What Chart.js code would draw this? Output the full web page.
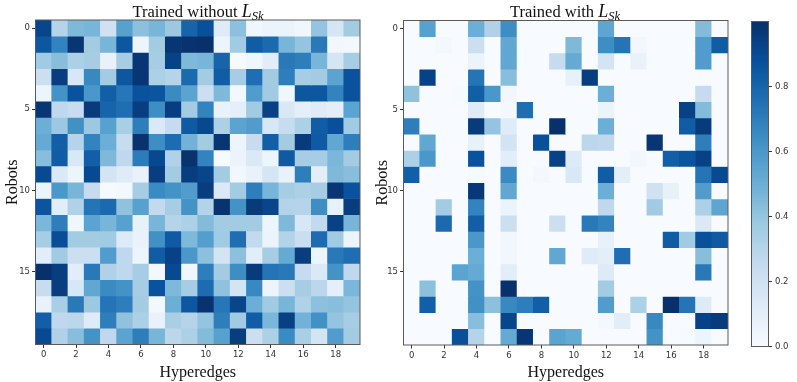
<!DOCTYPE html>
<html><head><meta charset="utf-8">
<style>
html,body{margin:0;padding:0;background:#fff;width:797px;height:382px;overflow:hidden}
.c{position:absolute;top:0;filter:blur(.35px)}
.t{position:absolute;top:0;font:16.5px "Liberation Serif",serif;color:#111;white-space:nowrap;transform:translateX(-50%);line-height:22px}
.t i{font-size:18px}.t sub{font-size:12.5px;line-height:0;vertical-align:-3px;font-style:italic}
</style>
<script src="https://cdn.jsdelivr.net/npm/chart.js@4/dist/chart.umd.js"></script>
</head><body>
<div class="c" style="left:0;width:370px;height:382px"><canvas id="a"></canvas></div>
<div class="c" style="left:370px;width:370px;height:382px"><canvas id="b"></canvas></div>
<div class="c" style="left:730px;width:67px;height:382px"><canvas id="cb"></canvas></div>
<div class="t" style="left:198px">Trained without <i>L<sub>Sk</sub></i></div>
<div class="t" style="left:565px">Trained with <i>L<sub>Sk</sub></i></div>
<script>
const hyperedges=[0,1,2,3,4,5,6,7,8,9,10,11,12,13,14,15,16,17,18,19];
const robots=[0,1,2,3,4,5,6,7,8,9,10,11,12,13,14,15,16,17,18,19];
const robotTicks=[0,5,10,15];
const colorbarTicks=[0,0.2,0.4,0.6,0.8];
const xAxisTitle="Hyperedges";
const yAxisTitle="Robots";
const blues=["#f7fbff","#deebf7","#c6dbef","#9ecae1","#6baed6","#4292c6","#2171b5","#08519c","#08306b"];
const withoutLsk=[
[.92,.3,.45,.47,.2,.56,.42,.47,.38,.8,.88,.12,.42,.04,.06,.06,.04,.4,.17,.36],
[.85,.68,.98,.36,.47,.85,.05,.36,.98,.99,1,.05,.37,.83,.78,.47,.4,.72,.03,.02],
[.37,.43,.33,.35,.07,.35,.98,.35,.93,.45,.47,.8,.01,.04,.11,.72,.7,.47,.17,.35],
[.22,.95,.16,.66,.36,.85,.98,.33,.3,.78,.36,.83,.35,.76,.36,.7,.35,.36,.55,.87],
[.05,.62,.87,.6,.82,.73,.87,.86,.65,.55,.22,.45,.02,.58,.37,.04,.85,.85,.68,.87],
[.98,.27,.24,.96,.8,.76,.95,.64,.95,.36,.68,.07,.09,.37,.93,.15,.09,.12,.1,.55],
[.5,.38,.63,.38,.56,.34,.7,.14,.25,.84,.91,.33,.55,.58,.16,.24,.33,.83,.88,.37],
[.52,.82,.3,.68,.5,.24,.99,.64,.77,.48,.36,.98,.05,.24,.82,.36,.96,.84,.53,.7],
[.43,.83,.15,.82,.45,.27,.71,.91,.32,.99,.68,.01,.06,.14,.05,.84,.35,.35,.46,.36],
[.9,.14,.05,.9,.18,.12,.07,.95,.36,.95,.92,.36,.03,.07,.17,.07,.7,.1,.45,.43],
[.06,.6,.47,.25,.01,.02,.35,.65,.62,.58,.95,.14,.36,.7,.47,.35,.33,.35,.98,.87],
[.86,.11,.32,.74,.78,.41,.56,.26,.35,.62,.31,.99,.62,.96,.92,.31,.3,.64,.08,.95],
[.46,.7,.04,.55,.47,.56,.08,.47,.3,.33,.44,.36,.36,.36,.05,.45,.16,.26,.93,.47],
[.35,.89,.36,.36,.37,.13,.07,.63,.84,.45,.57,.37,.76,.26,.06,.31,.23,.77,.37,.06],
[.11,.37,.22,.22,.58,.27,.05,.83,.93,.6,.42,.18,.42,.11,.35,.52,.95,.05,.72,.76],
[1,.95,.11,.72,.32,.27,.35,.02,.9,.04,.7,.36,.64,.96,.74,.72,.25,.14,.62,.27],
[.24,.95,.16,.53,.65,.62,.35,.87,.45,.35,.77,.41,.18,.66,.05,.22,.35,.28,.09,.46],
[.07,.34,.72,.38,.74,.7,.36,.02,.5,.85,.99,.73,.92,.5,.37,.47,.32,.42,.43,.4],
[.82,.27,.28,.12,.7,.41,.33,.07,.34,.3,.4,.7,.37,.83,.46,.94,.48,.63,.4,.35],
[.9,.32,.43,.62,.27,.55,.7,.47,.28,.33,.44,.56,.95,.22,.33,.65,.34,.18,.58,.36]];
const withLsk=[
[0,.56,0,0,.5,.32,.64,0,0,0,0,0,.54,0,0,0,0,0,.44,0],
[0,0,.02,0,.22,0,.53,0,0,0,.45,0,.64,.74,.03,0,0,0,.58,.83],
[0,0,0,0,.06,0,.53,0,0,.25,.52,0,.18,0,.07,0,0,0,.58,0],
[0,.93,0,0,.74,0,.43,0,0,0,.08,.95,0,0,0,0,0,0,0,0],
[.41,0,0,.01,.82,.6,.03,0,0,0,0,0,.5,0,0,0,0,0,.25,0],
[0,0,0,0,.12,0,.02,.76,0,0,0,0,.06,0,0,0,0,.93,.44,0],
[.7,0,0,0,.96,.4,.12,0,0,1,0,0,.5,0,0,0,0,.83,.96,0],
[0,.53,0,0,.08,0,.19,0,.88,0,0,.28,.27,0,0,.98,0,0,.7,0],
[.33,.6,0,0,.87,0,.11,0,0,.93,.13,0,0,0,.03,0,.82,.86,.93,0],
[.82,0,0,0,.01,0,.65,0,.02,0,.15,0,.83,.1,0,0,0,0,.74,.9],
[0,0,0,0,.97,0,.53,0,0,0,0,0,.5,0,0,.2,.08,0,.58,0],
[0,0,.36,0,.68,0,.06,0,0,0,0,0,.27,0,0,.37,0,0,.33,.54],
[0,0,.78,0,.82,0,.22,0,0,.22,0,.72,.68,0,0,0,0,0,.14,0],
[0,0,0,0,.6,0,.03,0,0,0,0,0,.08,0,0,0,.83,.37,.88,.84],
[0,0,0,0,.5,0,.03,0,0,.53,0,.12,.1,.76,0,0,0,0,.43,0],
[0,0,0,.55,.52,0,.11,0,0,0,0,0,.13,0,0,0,0,0,.72,0],
[0,.42,0,0,.62,0,1,0,0,0,0,0,.36,0,0,0,0,0,0,0],
[0,.82,0,0,.63,.42,.66,.7,.82,0,0,0,.58,0,.33,0,1,.74,.13,0],
[0,0,0,0,.43,0,.92,0,0,0,0,0,.02,.11,0,.66,0,0,.93,.96],
[0,0,0,.88,.3,0,.52,.98,0,.55,.52,0,0,0,0,.62,0,.01,.05,0]];

const rgb=h=>[1,3,5].map(i=>parseInt(h.substr(i,2),16));
function shade(v){
  const p=Math.min(v,1)*(blues.length-1),i=Math.min(Math.floor(p),blues.length-2),f=p-i;
  const a=rgb(blues[i]),b=rgb(blues[i+1]);
  return 'rgb('+a.map((c,k)=>Math.round(c+(b[k]-c)*f)).join(',')+')';
}
const FRAME='#5a5a5a',TICK='#333';
const tickFont={family:'"DejaVu Sans"',size:8.5};
const titleFont={family:'"Liberation Serif"',size:16};
const frame={id:'frame',afterDatasetsDraw(ch){
  const a=ch.chartArea,c=ch.ctx;c.save();c.strokeStyle=FRAME;c.lineWidth=1;
  c.strokeRect(a.left,a.top,a.right-a.left,a.bottom-a.top);c.restore();}};

function heat(id,matrix,left,top,right,bottom){
  new Chart(document.getElementById(id),{
    type:'bar',
    data:{labels:hyperedges,
      datasets:robots.map(r=>({
        data:hyperedges.map(()=>[r-.5,r+.5]),
        backgroundColor:matrix[r].map(shade),
        borderWidth:0,grouped:false,barPercentage:1,categoryPercentage:1}))},
    options:{responsive:false,animation:false,
      layout:{padding:{top:top,right:370-right,left:0,bottom:0}},
      plugins:{legend:{display:false},tooltip:{enabled:false},title:{display:false}},
      scales:{
        x:{type:'category',offset:true,
          afterFit(s){s.height=382-bottom;},
          grid:{display:true,drawOnChartArea:false,offset:false,tickLength:3.5,tickColor:TICK,color:TICK,drawTicks:true},
          border:{display:false},
          afterBuildTicks(s){s.ticks=s.ticks.filter(t=>t.value%2===0);},
          ticks:{autoSkip:false,maxRotation:0,color:TICK,font:tickFont,padding:2,
            callback(v){return String(hyperedges[v]);}},
          title:{display:true,text:xAxisTitle,color:'#111',font:titleFont,padding:{top:0,bottom:0}}},
        y:{type:'linear',reverse:true,min:-.5,max:19.5,
          afterFit(s){s.width=left;},
          afterBuildTicks(s){s.ticks=robotTicks.map(v=>({value:v}));},
          grid:{display:true,drawOnChartArea:false,tickLength:3.5,tickColor:TICK},
          border:{display:false},
          ticks:{color:TICK,font:tickFont,padding:2,callback(v){return String(v);}},
          title:{display:true,text:yAxisTitle,color:'#111',font:titleFont,padding:{top:3,bottom:3}}}
      }},
    plugins:[frame]});
}
const size=(id,w,h)=>{const c=document.getElementById(id);c.width=w;c.height=h;c.style.width=w+'px';c.style.height=h+'px';c.style.display='block';};
size('a',370,382);size('b',370,382);size('cb',67,382);
heat('a',withoutLsk,35.5,20,360,344.5);
heat('b',withLsk,33.5,20.5,358,345);

new Chart(document.getElementById('cb'),{
  type:'bar',
  data:{labels:['scale'],datasets:[{data:[[0,1]],borderWidth:0,barPercentage:1,categoryPercentage:1,
    backgroundColor(ctx){
      const ch=ctx.chart,y=ch.scales.y;
      if(!y||!ch.chartArea)return blues[0];
      const p0=y.getPixelForValue(0),p1=y.getPixelForValue(1);
      if(!isFinite(p0)||!isFinite(p1))return blues[0];
      const g=ch.ctx.createLinearGradient(0,p0,0,p1);
      blues.forEach((c,i)=>g.addColorStop(i/(blues.length-1),c));return g;}}]},
  options:{responsive:false,animation:false,
    layout:{padding:{top:21.5,bottom:35.5,left:21.5,right:0}},
    plugins:{legend:{display:false},tooltip:{enabled:false}},
    scales:{
      x:{display:false,offset:true},
      y:{type:'linear',position:'right',min:0,max:1,
        afterFit(s){s.width=67-38.5;},
        afterBuildTicks(s){s.ticks=colorbarTicks.map(v=>({value:v}));},
        grid:{display:true,drawOnChartArea:false,tickLength:3.5,tickColor:TICK},
        border:{display:false},
        ticks:{color:TICK,font:tickFont,padding:3,callback(v){return v.toFixed(1);}}}
    }},
  plugins:[frame]});
</script>
</body></html>
